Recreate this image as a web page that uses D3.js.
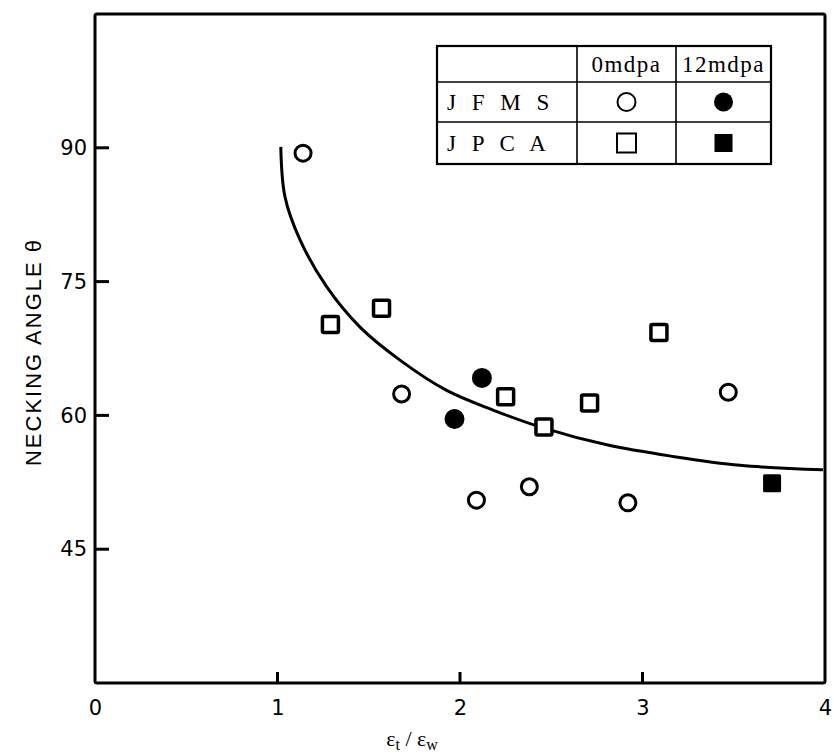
<!DOCTYPE html>
<html lang="en">
<head>
	<meta charset="utf-8">
	<title>Necking angle vs strain ratio</title>
	<script type="text/javascript" src="https://d3js.org/d3.v7.min.js"></script>
	<style type="text/css">
		body { margin: 0; background: #fff; }
	</style>
</head>
<body>
	<script type="text/javascript">
		// data: [strain ratio, necking angle]
		var jfms0 = [[1.14, 89.4], [1.68, 62.4], [2.09, 50.5], [2.38, 52.0], [2.92, 50.2], [3.47, 62.6]];
		var jfms12 = [[2.12, 64.2], [1.97, 59.6]];
		var jpca0 = [[1.29, 70.2], [1.57, 72.0], [2.25, 62.1], [2.46, 58.7], [2.71, 61.4], [3.09, 69.3]];
		var jpca12 = [[3.71, 52.4]];
		// fitted curve, traced point by point
		var curveX = [1.018, 1.041, 1.123, 1.270, 1.452, 1.671, 1.927, 2.181, 2.455, 2.804, 3.167, 3.534, 3.989];
		var curveY = [90.1, 84.5, 79.7, 74.4, 69.9, 66.2, 62.8, 60.6, 58.6, 56.7, 55.4, 54.4, 53.9];
		var xTicks = [0, 1, 2, 3, 4];
		var yTicks = [45, 60, 75, 90];
		var legendCols = ["0mdpa", "12mdpa"];
		var legendRows = ["J F M S", "J P C A"];

		var w = 834, h = 756;
		// plot box edges ("top" is taken on window, hence the prefix)
		var pLeft = 95, pRight = 825, pTop = 14, pBottom = 683;

		var svg = d3.select("body").append("svg")
			.attr("width", w)
			.attr("height", h);

		var x = d3.scaleLinear().domain([0, 4]).range([pLeft, pRight]);
		var y = d3.scaleLinear().domain([30, 105]).range([pBottom, pTop]);

		// axis labels from d3 axes, tick marks drawn inward by hand below
		var xAxis = svg.append("g")
			.attr("transform", "translate(0," + pBottom + ")")
			.call(d3.axisBottom(x).tickValues(xTicks).tickFormat(d3.format("d"))
				.tickSize(0).tickPadding(17));
		xAxis.select(".domain").remove();
		xAxis.selectAll("text")
			.attr("font-family", "DejaVu Sans, Arial, sans-serif")
			.attr("font-size", "21px")
			.attr("fill", "#000");

		var yAxis = svg.append("g")
			.attr("transform", "translate(" + pLeft + ",0)")
			.call(d3.axisLeft(y).tickValues(yTicks).tickFormat(d3.format("d"))
				.tickSize(0).tickPadding(8));
		yAxis.select(".domain").remove();
		yAxis.selectAll("text")
			.attr("font-family", "DejaVu Sans, Arial, sans-serif")
			.attr("font-size", "21px")
			.attr("fill", "#000");

		// frame around the plot
		svg.append("rect")
			.attr("x", pLeft)
			.attr("y", pTop)
			.attr("width", pRight - pLeft)
			.attr("height", pBottom - pTop)
			.attr("rx", 2)
			.attr("fill", "none")
			.attr("stroke", "#000")
			.attr("stroke-width", 3);

		var tickG = svg.append("g");
		tickG.selectAll("line.xt")
			.data(xTicks.slice(1, -1))
			.enter().append("line")
			.attr("x1", function(d) { return x(d); })
			.attr("x2", function(d) { return x(d); })
			.attr("y1", pBottom)
			.attr("y2", pBottom - 11)
			.attr("stroke", "#000")
			.attr("stroke-width", 3);
		tickG.selectAll("line.yt")
			.data(yTicks)
			.enter().append("line")
			.attr("x1", pLeft)
			.attr("x2", pLeft + 14)
			.attr("y1", function(d) { return y(d); })
			.attr("y2", function(d) { return y(d); })
			.attr("stroke", "#000")
			.attr("stroke-width", 3);

		// axis titles
		svg.append("text")
			.attr("transform", "translate(41,352) rotate(-90)")
			.attr("text-anchor", "middle")
			.attr("font-family", "Liberation Sans, Arial, sans-serif")
			.attr("font-size", "22px")
			.attr("letter-spacing", "2px")
			.text("NECKING ANGLE θ");

		var xt = svg.append("text")
			.attr("x", 412)
			.attr("y", 746)
			.attr("text-anchor", "middle")
			.attr("font-family", "Liberation Serif, Times New Roman, serif")
			.attr("font-size", "22px");
		xt.append("tspan").text("ε");
		xt.append("tspan").attr("font-size", "16px").attr("dy", 4).text("t");
		xt.append("tspan").attr("dy", -4).text(" / ε");
		xt.append("tspan").attr("font-size", "16px").attr("dy", 4).text("w");

		// curve
		var line = d3.line()
			.x(function(d, i) { return x(curveX[i]); })
			.y(function(d, i) { return y(curveY[i]); })
			.curve(d3.curveCatmullRom);
		svg.append("path")
			.datum(curveX)
			.attr("d", line)
			.attr("fill", "none")
			.attr("stroke", "#000")
			.attr("stroke-width", 3);

		// markers
		function circles(data, filled, r) {
			svg.append("g").selectAll("circle")
				.data(data)
				.enter()
				.append("circle")
				.attr("cx", function(d) { return x(d[0]); })
				.attr("cy", function(d) { return y(d[1]); })
				.attr("r", r)
				.attr("fill", filled ? "#000" : "#fff")
				.attr("stroke", "#000")
				.attr("stroke-width", filled ? 0 : 3);
		}
		function squares(data, filled, s) {
			svg.append("g").selectAll("rect")
				.data(data)
				.enter()
				.append("rect")
				.attr("x", function(d) { return x(d[0]) - s / 2; })
				.attr("y", function(d) { return y(d[1]) - s / 2; })
				.attr("width", s)
				.attr("height", s)
				.attr("rx", 1.5)
				.attr("fill", filled ? "#000" : "#fff")
				.attr("stroke", "#000")
				.attr("stroke-width", filled ? 0 : 3.5);
		}
		circles(jfms0, false, 8);
		circles(jfms12, true, 10);
		squares(jpca0, false, 16);
		squares(jpca12, true, 18);

		// legend table
		var lg = svg.append("g");
		var colX = [437, 577, 676, 771];
		var rowY = [46, 82, 122, 164];
		lg.append("rect")
			.attr("x", colX[0]).attr("y", rowY[0])
			.attr("width", colX[3] - colX[0]).attr("height", rowY[3] - rowY[0])
			.attr("fill", "#fff").attr("stroke", "#000").attr("stroke-width", 2.2);
		lg.selectAll("line.v")
			.data([colX[1], colX[2]])
			.enter().append("line")
			.attr("x1", function(d) { return d; }).attr("x2", function(d) { return d; })
			.attr("y1", rowY[0]).attr("y2", rowY[3])
			.attr("stroke", "#000").attr("stroke-width", 1.6);
		lg.selectAll("line.h")
			.data([rowY[1], rowY[2]])
			.enter().append("line")
			.attr("x1", colX[0]).attr("x2", colX[3])
			.attr("y1", function(d) { return d; }).attr("y2", function(d) { return d; })
			.attr("stroke", "#000").attr("stroke-width", 1.6);
		lg.selectAll("text.col")
			.data(legendCols)
			.enter().append("text")
			.attr("x", function(d, i) { return (colX[i + 1] + colX[i + 2]) / 2; })
			.attr("y", (rowY[0] + rowY[1]) / 2 + 8)
			.attr("text-anchor", "middle")
			.attr("font-family", "Liberation Serif, Times New Roman, serif")
			.attr("font-size", "23px")
			.attr("letter-spacing", "1.5px")
			.text(function(d) { return d; });
		lg.selectAll("text.row")
			.data(legendRows)
			.enter().append("text")
			.attr("x", colX[0] + 10)
			.attr("y", function(d, i) { return (rowY[i + 1] + rowY[i + 2]) / 2 + 8; })
			.attr("font-family", "Liberation Serif, Times New Roman, serif")
			.attr("font-size", "23px")
			.attr("letter-spacing", "5px")
			.text(function(d) { return d; });
		var cx0 = (colX[1] + colX[2]) / 2, cx1 = (colX[2] + colX[3]) / 2;
		var ry0 = (rowY[1] + rowY[2]) / 2, ry1 = (rowY[2] + rowY[3]) / 2;
		lg.append("circle").attr("cx", cx0).attr("cy", ry0).attr("r", 9)
			.attr("fill", "#fff").attr("stroke", "#000").attr("stroke-width", 2);
		lg.append("circle").attr("cx", cx1).attr("cy", ry0).attr("r", 9.5)
			.attr("fill", "#000");
		lg.append("rect").attr("x", cx0 - 9.5).attr("y", ry1 - 9.5).attr("width", 19).attr("height", 19)
			.attr("fill", "#fff").attr("stroke", "#000").attr("stroke-width", 2);
		lg.append("rect").attr("x", cx1 - 9).attr("y", ry1 - 9).attr("width", 18).attr("height", 18)
			.attr("fill", "#000");
	</script>
</body>
</html>
